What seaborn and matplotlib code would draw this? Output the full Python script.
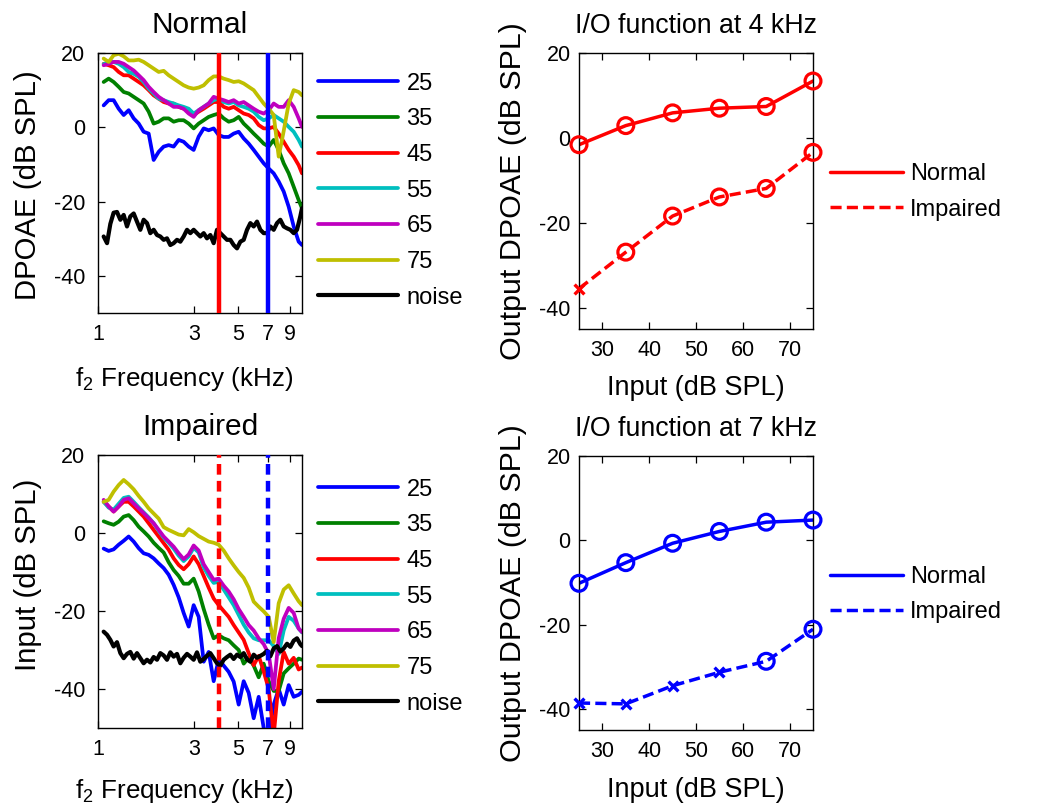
import matplotlib
matplotlib.use("Agg")
import matplotlib.pyplot as plt
from matplotlib.ticker import NullLocator
import pandas as pd
import seaborn as sns

# ---------------------------------------------------------------- data
# f2 frequencies (kHz) of the DPOAE sweep
F_KHZ = [1.067, 1.130, 1.196, 1.267, 1.342, 1.421, 1.505, 1.594, 1.687, 1.787,
         1.892, 2.004, 2.122, 2.247, 2.379, 2.520, 2.668, 2.826, 2.992, 3.169,
         3.356, 3.553, 3.763, 3.985, 4.220, 4.469, 4.732, 5.011, 5.307, 5.620,
         5.951, 6.302, 6.674, 7.067, 7.484, 7.925, 8.393, 8.887, 9.411, 9.962,
         10.35]
# frequencies of the noise-floor estimate (kHz)
NOISE_F_KHZ = [1.067, 1.109, 1.152, 1.196, 1.243, 1.292, 1.342, 1.394, 1.448, 1.505,
               1.563, 1.624, 1.687, 1.753, 1.821, 1.892, 1.966, 2.042, 2.122, 2.204,
               2.290, 2.379, 2.472, 2.568, 2.668, 2.772, 2.880, 2.992, 3.108, 3.229,
               3.356, 3.485, 3.621, 3.763, 3.909, 4.061, 4.220, 4.384, 4.555, 4.732,
               4.916, 5.107, 5.307, 5.513, 5.728, 5.951, 6.182, 6.423, 6.674, 6.933,
               7.203, 7.484, 7.775, 8.077, 8.393, 8.718, 9.057, 9.411, 9.774, 10.15,
               10.35]

LEVELS = [25, 35, 45, 55, 65, 75]  # stimulus level (dB SPL)

# Normal-hearing ear: DPOAE level (dB SPL) per stimulus level
NORMAL_25 = [5.9, 7.3, 7.3, 5.0, 3.3, 4.6, 2.4, 1.0, -1.2, -1.7,
             -8.8, -6.6, -5.2, -4.8, -5.2, -3.4, -3.9, -5.2, -6.1, -2.5,
             -0.3, -0.8, -0.3, -2.1, -2.6, -2.6, -1.7, -1.2, -3.0, -4.4,
             -6.1, -7.9, -9.7, -11.1, -12.4, -14.6, -17.3, -21.4, -26.7, -30.8,
             -31.7]
NORMAL_35 = [12.2, 13.1, 12.2, 10.9, 9.5, 9.1, 8.2, 7.3, 6.4, 4.2,
             1.0, 1.5, 2.4, 2.4, 1.5, 1.9, 1.9, 1.0, -0.3, 1.0,
             1.9, 2.8, 3.3, 3.7, 2.4, 1.5, 1.9, 2.8, 1.0, -0.3,
             -1.7, -3.0, -4.4, -5.2, -3.4, -6.1, -9.7, -12.4, -16.0, -19.6,
             -21.8]
NORMAL_45 = [17.1, 16.7, 16.2, 14.9, 14.0, 14.0, 13.1, 12.2, 11.3, 10.0,
             8.6, 7.7, 6.8, 6.4, 6.4, 5.5, 5.0, 4.6, 3.3, 4.2,
             5.0, 5.9, 6.8, 6.8, 5.5, 5.0, 5.5, 4.6, 3.7, 3.3,
             2.4, 0.6, -0.3, -0.3, 0.1, -1.7, -3.9, -6.1, -7.9, -10.2,
             -12.4]
NORMAL_55 = [17.0, 17.6, 17.6, 17.1, 16.2, 14.9, 14.4, 13.6, 12.2, 10.4,
             9.1, 7.7, 7.3, 6.8, 6.4, 5.9, 5.5, 5.0, 3.7, 4.6,
             5.5, 6.4, 7.3, 7.7, 6.8, 6.4, 6.8, 5.9, 5.5, 5.0,
             4.2, 2.8, 1.9, 2.4, 3.3, 2.4, 1.5, 0.1, -1.2, -3.4,
             -5.2]
NORMAL_65 = [16.7, 17.1, 17.6, 17.6, 17.1, 16.2, 15.3, 14.0, 12.7, 10.9,
             9.5, 8.2, 7.3, 6.4, 5.5, 5.5, 5.0, 3.7, 2.8, 4.6,
             5.5, 6.4, 8.2, 7.7, 7.3, 6.8, 7.3, 6.4, 6.8, 5.9,
             5.0, 4.2, 3.7, 4.6, 6.4, 5.5, 5.5, 7.3, 5.5, 2.4,
             0.1]
NORMAL_75 = [18.5, 17.6, 19.4, 19.8, 19.1, 18.0, 18.0, 18.2, 17.6, 16.7,
             15.8, 14.9, 15.2, 14.0, 13.1, 12.2, 11.3, 10.7, 10.4, 10.7,
             11.3, 12.7, 13.7, 13.7, 13.1, 12.7, 12.2, 12.4, 11.8, 10.9,
             10.0, 8.2, 6.4, 5.0, 3.3, -7.9, -1.0, 6.4, 10.0, 9.5,
             8.6]
NORMAL_NOISE = [-29.4, -31.2, -26.0, -23.0, -22.8, -24.9, -23.6, -26.7, -24.0, -23.2,
                -25.4, -27.6, -24.9, -25.8, -28.5, -27.6, -29.0, -29.4, -30.3, -29.9,
                -31.7, -31.2, -30.3, -30.8, -29.4, -27.6, -28.5, -27.6, -28.5, -29.4,
                -28.5, -29.9, -29.0, -31.2, -27.6, -28.5, -29.4, -30.3, -30.3, -31.7,
                -32.6, -30.8, -30.3, -27.6, -25.8, -26.7, -25.4, -27.6, -28.5, -28.5,
                -26.7, -27.6, -25.8, -24.9, -26.7, -27.2, -27.6, -28.5, -27.6, -24.0,
                -21.8]

# Hearing-impaired ear
IMPAIRED_25 = [-4.0, -4.6, -4.2, -3.0, -2.0, -0.9, -2.2, -3.9, -5.2, -5.6,
               -6.5, -7.8, -9.0, -10.7, -13.3, -16.5, -20.5, -24.0, -18.5, -21.5,
               -33.0, -30.5, -38.0, -32.5, -34.0, -35.6, -38.1, -44.0, -38.0, -41.0,
               -47.5, -42.0, -50.0, -52.0, -44.0, -40.0, -44.0, -39.0, -42.0, -41.5,
               -40.7]
IMPAIRED_35 = [3.0, 2.5, 2.1, 2.9, 4.2, 4.6, 3.3, 1.6, 0.4, -0.9,
               -2.5, -3.8, -5.0, -7.5, -9.5, -11.0, -13.0, -13.0, -11.7, -15.0,
               -19.5, -23.5, -27.0, -26.2, -27.0, -27.5, -28.8, -30.0, -33.5, -32.0,
               -34.0, -37.0, -33.5, -38.0, -40.5, -40.5, -36.0, -34.7, -33.5, -32.2,
               -32.5]
IMPAIRED_45 = [8.0, 6.8, 5.5, 6.8, 8.0, 8.0, 6.8, 5.5, 4.2, 2.5,
               0.8, -0.9, -2.6, -4.3, -6.5, -8.2, -9.3, -8.0, -6.0, -8.0,
               -11.0, -14.0, -16.8, -18.5, -20.0, -21.5, -23.6, -25.5, -27.4, -30.8,
               -33.9, -31.5, -35.5, -40.0, -52.0, -38.0, -30.5, -33.5, -32.0, -35.0,
               -34.5]
IMPAIRED_55 = [8.0, 6.5, 6.0, 7.5, 9.0, 9.3, 8.0, 6.6, 5.3, 4.0,
               2.5, 0.6, -1.2, -2.5, -4.0, -5.8, -7.2, -6.0, -3.8, -5.0,
               -8.8, -11.0, -12.8, -12.5, -14.5, -16.5, -18.5, -21.0, -23.5, -25.5,
               -27.0, -27.5, -27.5, -27.5, -29.0, -31.0, -25.0, -21.5, -22.5, -24.5,
               -25.5]
IMPAIRED_65 = [8.5, 6.8, 5.5, 6.8, 8.5, 8.9, 7.6, 6.3, 5.1, 3.8,
               2.5, 0.8, -0.9, -2.2, -3.5, -5.2, -6.7, -5.5, -3.2, -4.5,
               -8.0, -10.0, -12.0, -11.7, -13.5, -15.0, -17.0, -19.5, -21.5, -23.6,
               -25.0, -27.0, -28.5, -31.0, -40.0, -27.0, -22.0, -19.2, -20.5, -24.5,
               -25.4]
IMPAIRED_75 = [8.0, 8.5, 10.6, 12.3, 13.6, 12.5, 11.2, 9.5, 8.0, 6.3,
               5.0, 3.7, 1.5, 0.8, 0.2, -0.4, -0.6, 1.0, 0.2, -0.8,
               -1.5, -2.2, -2.5, -3.0, -4.5, -6.5, -8.3, -10.0, -11.5, -14.0,
               -17.6, -18.9, -20.1, -21.5, -28.0, -18.0, -14.5, -13.4, -15.5, -17.5,
               -18.5]
IMPAIRED_NOISE = [-25.3, -26.1, -27.4, -29.1, -28.0, -30.8, -32.1, -31.0, -30.5, -32.2,
                  -30.8, -32.1, -33.4, -32.5, -33.2, -31.8, -32.5, -30.8, -31.4, -32.5,
                  -30.6, -31.7, -31.0, -33.4, -32.0, -31.0, -31.7, -32.5, -30.6, -33.0,
                  -32.3, -31.5, -30.8, -32.1, -33.4, -34.0, -32.5, -31.8, -31.2, -32.3,
                  -31.2, -31.8, -30.8, -32.4, -33.0, -31.2, -32.0, -31.5, -31.0, -30.2,
                  -31.6, -29.6, -29.0, -30.4, -29.6, -28.4, -29.2, -27.6, -27.0, -28.5,
                  -29.0]

# Frequencies at which the I/O functions are taken (kHz)
IO_FREQS_KHZ = [4, 7]

# I/O functions: input level (dB SPL) -> output DPOAE (dB SPL)
IO_INPUT = [25, 35, 45, 55, 65, 75]
IO4_NORMAL = [-1.6, 2.9, 5.9, 7.0, 7.4, 13.4]
IO4_IMPAIRED = [-35.5, -26.9, -18.4, -13.9, -11.9, -3.4]
IO4_IMPAIRED_MARK = ["x", "o", "o", "o", "o", "o"]   # x = below noise floor
IO7_NORMAL = [-10.2, -5.3, -0.7, 2.1, 4.3, 4.8]
IO7_IMPAIRED = [-38.6, -38.8, -34.5, -31.3, -28.7, -21.1]
IO7_IMPAIRED_MARK = ["x", "x", "x", "x", "o", "o"]

FREQ_TICKS = [1, 3, 5, 7, 9]
DB_TICKS = [-40, -20, 0, 20]
INPUT_TICKS = [30, 40, 50, 60, 70]

# ---------------------------------------------------------------- style
LEVEL_COLORS = ["#0000ff", "#008000", "#ff0000", "#00bfbf", "#bf00bf", "#bfbf00"]
IO_COLORS = ["#ff0000", "#0000ff"]

sns.set_theme(style="white")
plt.rcParams.update({
    "font.family": ["Liberation Sans", "DejaVu Sans"],
    "mathtext.fontset": "custom",
    "mathtext.rm": "Liberation Sans",
    "mathtext.it": "Liberation Sans:italic",
    "mathtext.bf": "Liberation Sans:bold",
    "axes.unicode_minus": False,
    "axes.edgecolor": "black",
    "axes.linewidth": 1.0,
    "text.color": "black",
    "axes.labelcolor": "black",
    "xtick.color": "black",
    "ytick.color": "black",
})

W, H = 1045, 810
fig = plt.figure(figsize=(W / 100, H / 100), dpi=100)
fig.patch.set_facecolor("white")


def add_axes_px(left, top, right, bottom):
    return fig.add_axes([left / W, 1 - bottom / H, (right - left) / W, (bottom - top) / H])


def style_box(ax, ypad):
    for sp in ax.spines.values():
        sp.set_visible(True)
        sp.set_color("black")
        sp.set_linewidth(1.0)
    ax.tick_params(axis="both", which="major", direction="in", top=True, right=True,
                   bottom=True, left=True, length=5, width=0.9, labelsize=15.5)
    ax.tick_params(axis="x", pad=8)
    ax.tick_params(axis="y", pad=ypad)


def draw_spectra(ax, curves, noise, title, ylabel, vline_style, ylab_y, xlab_y, legend_top):
    for lvl, vals, col in zip(LEVELS, curves, LEVEL_COLORS):
        sns.lineplot(x=F_KHZ, y=vals, ax=ax, color=col, lw=2.7, label=str(lvl),
                     estimator=None, sort=False)
    sns.lineplot(x=NOISE_F_KHZ, y=noise, ax=ax, color="black", lw=3.0, label="noise",
                 estimator=None, sort=False)
    for f, col in zip(IO_FREQS_KHZ, IO_COLORS):
        ax.axvline(f, color=col, lw=3.2, ls=vline_style, zorder=5)
    ax.set_xscale("log")
    ax.set_xlim(1, 10.35)
    ax.set_ylim(-50, 20)
    ax.set_xticks(FREQ_TICKS)
    ax.set_xticklabels([str(t) for t in FREQ_TICKS])
    ax.xaxis.set_minor_locator(NullLocator())
    ax.set_yticks(DB_TICKS)
    style_box(ax, 9)
    ax.set_title(title, fontsize=21.5, pad=14.4)
    ax.set_xlabel(r"f$_2$ Frequency (kHz)", fontsize=18.7)
    ax.xaxis.set_label_coords(0.42, xlab_y)
    ax.set_ylabel(ylabel, fontsize=21.2)
    ax.yaxis.set_label_coords(-0.2745, ylab_y)
    ax.legend(loc="upper left", bbox_to_anchor=(318 / W, 1 - legend_top / H),
              bbox_transform=fig.transFigure, frameon=False, fontsize=17,
              handlelength=3.4, handletextpad=0.35, labelspacing=0.58,
              borderpad=0, borderaxespad=0)


def draw_io(ax, normal, impaired, marks, color, title, xlab_y, legend_top):
    sns.lineplot(x=IO_INPUT, y=normal, ax=ax, color=color, lw=2.5, label="Normal")
    sns.lineplot(x=IO_INPUT, y=impaired, ax=ax, color=color, lw=2.5,
                 linestyle=(0, (3.2, 1.5)), label="Impaired")
    sns.scatterplot(x=IO_INPUT, y=normal, ax=ax, marker="o", s=130, color=color,
                    facecolor="none", edgecolor=color, linewidth=2.3,
                    clip_on=False, zorder=4)
    df = pd.DataFrame({"inp": IO_INPUT, "out": impaired, "mark": marks})
    circ = df[df["mark"] == "o"]
    cross = df[df["mark"] == "x"]
    if len(circ):
        sns.scatterplot(data=circ, x="inp", y="out", ax=ax, marker="o", s=130, color=color,
                        facecolor="none", edgecolor=color, linewidth=2.3,
                        clip_on=False, zorder=4)
    if len(cross):
        sns.scatterplot(data=cross, x="inp", y="out", ax=ax, marker="x", s=50, color=color,
                        linewidth=2.4, clip_on=False, zorder=4)
    ax.set_xlim(25, 75)
    ax.set_ylim(-45, 20)
    ax.set_xticks(INPUT_TICKS)
    ax.set_yticks(DB_TICKS)
    style_box(ax, 6)
    ax.set_title(title, fontsize=19.3, pad=14.4)
    ax.set_xlabel("Input (dB SPL)", fontsize=19.5)
    ax.xaxis.set_label_coords(0.5, xlab_y)
    ax.set_ylabel("Output DPOAE (dB SPL)", fontsize=21.9)
    ax.yaxis.set_label_coords(-0.222, 0.5)
    ax.legend(loc="upper left", bbox_to_anchor=(830 / W, 1 - legend_top / H),
              bbox_transform=fig.transFigure, frameon=False, fontsize=17,
              handlelength=3.1, handletextpad=0.3, labelspacing=0.56,
              borderpad=0, borderaxespad=0)


ax_n = add_axes_px(98, 53, 302, 313)
ax_i = add_axes_px(98, 455, 302, 728)
ax_io4 = add_axes_px(579, 53, 813, 329)
ax_io7 = add_axes_px(579, 456, 813, 730)

draw_spectra(ax_n, [NORMAL_25, NORMAL_35, NORMAL_45, NORMAL_55, NORMAL_65, NORMAL_75],
             NORMAL_NOISE, "Normal", "DPOAE (dB SPL)", "-", 0.49, -0.20, 72.5)
draw_spectra(ax_i, [IMPAIRED_25, IMPAIRED_35, IMPAIRED_45, IMPAIRED_55, IMPAIRED_65, IMPAIRED_75],
             IMPAIRED_NOISE, "Impaired", "Input (dB SPL)", (0, (2.4, 1.4)), 0.56, -0.18, 478.5)

draw_io(ax_io4, IO4_NORMAL, IO4_IMPAIRED, IO4_IMPAIRED_MARK, IO_COLORS[0],
        "I/O function at 4 kHz", -0.167, 163.5)
draw_io(ax_io7, IO7_NORMAL, IO7_IMPAIRED, IO7_IMPAIRED_MARK, IO_COLORS[1],
        "I/O function at 7 kHz", -0.172, 566)

fig.savefig("out.png", dpi=100, facecolor="white")
